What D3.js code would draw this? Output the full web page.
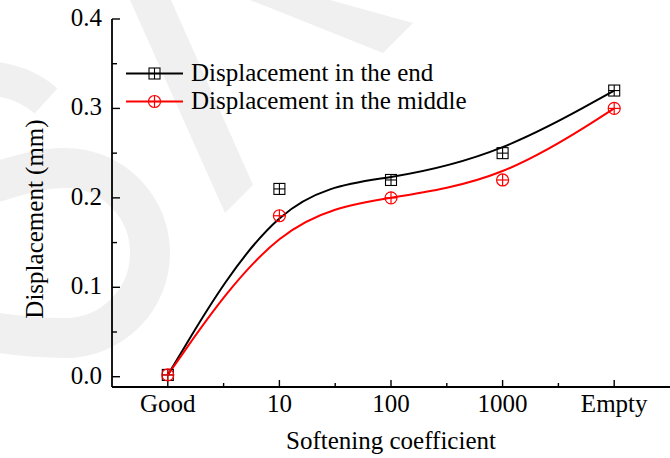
<!DOCTYPE html>
<html>
<head>
<meta charset="utf-8">
<script src="https://cdn.jsdelivr.net/npm/d3@7"></script>
<style>
  body { margin: 0; background: #fff; }
  svg { display: block; font-family: "Liberation Serif", "Times New Roman", serif; }
</style>
</head>
<body>
<div id="chart"></div>
<script>
// data
var categories = ["Good", "10", "100", "1000", "Empty"];
var dispEnd = [0.002, 0.21, 0.22, 0.25, 0.32];
var dispMiddle = [0.002, 0.18, 0.20, 0.22, 0.30];
var yTicks = [0.0, 0.1, 0.2, 0.3, 0.4];
var yMinorTicks = [0.05, 0.15, 0.25, 0.35];
var seriesNames = ["Displacement in the end", "Displacement in the middle"];

var width = 670, height = 458;
var plotLeft = 112, plotRight = 670, plotTop = 19, plotBottom = 387;

var svg = d3.select("#chart").append("svg").attr("width", width).attr("height", height);

// faint watermark in the background
var wm = svg.append("g").attr("class", "watermark");
wm.append("path")
    .attr("d", "M-30,190 C10,178 35,168 65,168 A85,85 0 0 1 65,338 C30,338 0,334 -30,328")
    .style("fill", "none").style("stroke", "#f0f0f0").style("stroke-width", 40);
wm.append("path")
    .attr("d", "M46,101 Q25,82 -10,78")
    .style("fill", "none").style("stroke", "#f0f0f0").style("stroke-width", 34);
wm.append("polygon").attr("points", "130,0 171,0 253,185 225,213").style("fill", "#f0f0f0");
wm.append("polygon").attr("points", "250,0 330,0 413,23 383,53").style("fill", "#f0f0f0");

var x = d3.scaleLinear().domain([-0.5, 4.5]).range([plotLeft, plotRight]);
var y = d3.scaleLinear().domain([-0.0115, 0.4]).range([plotBottom, plotTop]);

// x axis, ticks pointing inward
var xAxis = svg.append("g").attr("transform", "translate(0," + plotBottom + ")");
xAxis.append("line").attr("x1", plotLeft).attr("x2", plotRight).attr("y1", 0).attr("y2", 0)
    .style("stroke", "#000").style("stroke-width", 1.8);
xAxis.selectAll(".major").data(d3.range(categories.length)).enter().append("line")
    .attr("x1", function (d) { return x(d); }).attr("x2", function (d) { return x(d); })
    .attr("y1", 0).attr("y2", -7).style("stroke", "#000").style("stroke-width", 1.4);
xAxis.selectAll(".minor").data([0.5, 1.5, 2.5, 3.5]).enter().append("line")
    .attr("x1", function (d) { return x(d); }).attr("x2", function (d) { return x(d); })
    .attr("y1", 0).attr("y2", -4).style("stroke", "#000").style("stroke-width", 1.4);
xAxis.selectAll("text").data(categories).enter().append("text")
    .attr("x", function (d, i) { return x(i); }).attr("y", 24.5)
    .attr("text-anchor", "middle").attr("font-size", "25px").attr("fill", "#000")
    .text(function (d) { return d; });

// y axis
var yAxis = svg.append("g").attr("transform", "translate(" + plotLeft + ",0)");
yAxis.append("line").attr("x1", 0).attr("x2", 0).attr("y1", y(0.4)).attr("y2", plotBottom)
    .style("stroke", "#000").style("stroke-width", 1.8);
yAxis.selectAll(".major").data(yTicks).enter().append("line")
    .attr("y1", function (d) { return y(d); }).attr("y2", function (d) { return y(d); })
    .attr("x1", 0).attr("x2", 8).style("stroke", "#000").style("stroke-width", 1.4);
yAxis.selectAll(".minor").data(yMinorTicks).enter().append("line")
    .attr("y1", function (d) { return y(d); }).attr("y2", function (d) { return y(d); })
    .attr("x1", 0).attr("x2", 5).style("stroke", "#000").style("stroke-width", 1.4);
yAxis.selectAll("text").data(yTicks).enter().append("text")
    .attr("x", -10).attr("y", function (d) { return y(d) + 7; })
    .attr("text-anchor", "end").attr("font-size", "25px").attr("fill", "#000")
    .text(function (d) { return d.toFixed(1); });

// axis titles
svg.append("text").attr("x", (plotLeft + plotRight) / 2).attr("y", 449)
    .attr("text-anchor", "middle").attr("font-size", "25px").text("Softening coefficient");
svg.append("text").attr("transform", "translate(43,219) rotate(-90)")
    .attr("text-anchor", "middle").attr("font-size", "25px").text("Displacement (mm)");

// smoothed curves (B-spline through the data as control points)
var line = d3.line()
    .x(function (d, i) { return x(i); })
    .y(function (d) { return y(d); })
    .curve(d3.curveBasis);

function squareMarker(g, cx, cy) {
    var h = 5.5;
    g.append("rect").attr("x", cx - h).attr("y", cy - h).attr("width", 2 * h).attr("height", 2 * h)
        .style("fill", "none").style("stroke", "#000").style("stroke-width", 1.1);
    g.append("line").attr("x1", cx - h).attr("x2", cx + h).attr("y1", cy).attr("y2", cy)
        .style("stroke", "#000").style("stroke-width", 1.1);
    g.append("line").attr("x1", cx).attr("x2", cx).attr("y1", cy - h).attr("y2", cy + h)
        .style("stroke", "#000").style("stroke-width", 1.1);
}

function circleMarker(g, cx, cy) {
    var r = 6;
    g.append("circle").attr("cx", cx).attr("cy", cy).attr("r", r)
        .style("fill", "none").style("stroke", "#ff0000").style("stroke-width", 1.2);
    g.append("line").attr("x1", cx - r).attr("x2", cx + r).attr("y1", cy).attr("y2", cy)
        .style("stroke", "#ff0000").style("stroke-width", 1.2);
    g.append("line").attr("x1", cx).attr("x2", cx).attr("y1", cy - r).attr("y2", cy + r)
        .style("stroke", "#ff0000").style("stroke-width", 1.2);
}

var plot = svg.append("g");
plot.append("path").datum(dispEnd).attr("d", line)
    .style("fill", "none").style("stroke", "#000").style("stroke-width", 2);
plot.append("path").datum(dispMiddle).attr("d", line)
    .style("fill", "none").style("stroke", "#ff0000").style("stroke-width", 2);

dispEnd.forEach(function (d, i) { squareMarker(plot, x(i), y(d)); });
dispMiddle.forEach(function (d, i) { circleMarker(plot, x(i), y(d)); });

// legend
var legend = svg.append("g");
var legendY = [73.5, 101.5];
legend.append("line").attr("x1", 126).attr("x2", 183).attr("y1", legendY[0]).attr("y2", legendY[0])
    .style("stroke", "#000").style("stroke-width", 2);
squareMarker(legend, 154.5, legendY[0]);
legend.append("line").attr("x1", 126).attr("x2", 183).attr("y1", legendY[1]).attr("y2", legendY[1])
    .style("stroke", "#ff0000").style("stroke-width", 2);
circleMarker(legend, 154.5, legendY[1]);
legend.selectAll("text").data(seriesNames).enter().append("text")
    .attr("x", 191).attr("y", function (d, i) { return legendY[i] + 7.5; })
    .attr("font-size", "25px").attr("fill", "#000")
    .text(function (d) { return d; });
</script>
</body>
</html>
